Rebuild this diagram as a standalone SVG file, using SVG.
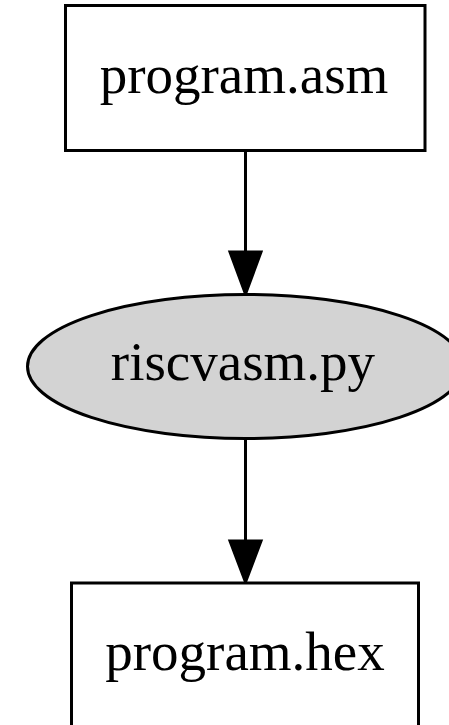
<svg xmlns="http://www.w3.org/2000/svg" width="449" height="725" viewBox="0 0 449 725">
<style>
.node{fill:#ffffff;stroke:#000000;stroke-width:3}
.proc{fill:#d3d3d3;stroke:#000000;stroke-width:3}
.lbl{font-family:"Liberation Serif","Times New Roman",serif;font-size:55px;text-anchor:middle;fill:#000000}
.edge{stroke:#000000;stroke-width:3;fill:none}
.head{fill:#000000;stroke:#000000;stroke-width:3}
</style>
<rect width="449" height="725" fill="#ffffff"/>
<g id="edges">
<line class="edge" x1="245.5" y1="151" x2="245.5" y2="252"/>
<polygon class="head" points="230,252 261,252 245.5,294"/>
<line class="edge" x1="245.5" y1="438" x2="245.5" y2="541"/>
<polygon class="head" points="230,541 261,541 245.5,582"/>
</g>
<g id="program_asm">
<rect class="node" x="65.5" y="5.5" width="359.5" height="145"/>
<text class="lbl" x="244" y="93">program.asm</text>
</g>
<g id="riscvasm_py">
<ellipse class="proc" cx="245.5" cy="366.5" rx="218" ry="72"/>
<text class="lbl" x="243" y="380">riscvasm.py</text>
</g>
<g id="program_hex">
<rect class="node" x="71.5" y="583" width="347" height="150"/>
<text class="lbl" x="245" y="670">program.hex</text>
</g>
</svg>
